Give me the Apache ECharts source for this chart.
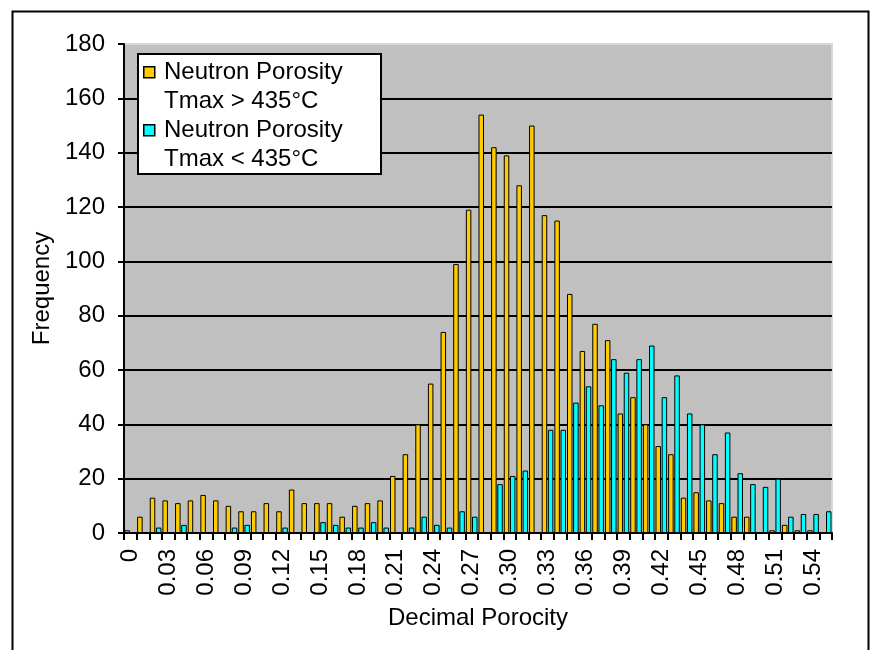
<!DOCTYPE html>
<html>
<head>
<meta charset="utf-8">
<script src="https://cdn.jsdelivr.net/npm/echarts@6/dist/echarts.min.js"></script>
<style>
html,body{margin:0;padding:0;background:#fff;}
#chart{width:876px;height:650px;}
</style>
</head>
<body>
<div id="chart"></div>
<script>
const categories = ['0','0.01','0.02','0.03','0.04','0.05','0.06','0.07','0.08','0.09',
  '0.10','0.11','0.12','0.13','0.14','0.15','0.16','0.17','0.18','0.19',
  '0.20','0.21','0.22','0.23','0.24','0.25','0.26','0.27','0.28','0.29',
  '0.30','0.31','0.32','0.33','0.34','0.35','0.36','0.37','0.38','0.39',
  '0.40','0.41','0.42','0.43','0.44','0.45','0.46','0.47','0.48','0.49',
  '0.50','0.51','0.52','0.53','0.54','0.55'];
const tmaxHigh = [1,6,13,12,11,12,14,12,10,8,
  8,11,8,16,11,11,11,6,10,11,
  12,21,29,40,55,74,99,119,154,142,
  139,128,150,117,115,88,67,77,71,44,
  50,40,32,29,13,15,12,11,6,6,
  0,1,3,1,1,0];
const tmaxLow = [0,0,2,0,3,0,0,0,2,3,
  0,0,2,0,0,4,3,2,2,4,
  2,0,2,6,3,2,8,6,0,18,
  21,23,0,38,38,48,54,47,64,59,
  64,69,50,58,44,40,29,37,22,18,
  17,20,6,7,7,8];
const seriesNames = ['Neutron Porosity Tmax > 435°C', 'Neutron Porosity Tmax < 435°C'];
const legendLines = [['Neutron Porosity','Tmax > 435°C'],['Neutron Porosity','Tmax < 435°C']];
const colors = ['#FFCC00', '#00FFFF'];
const yTicks = {min:0, max:180, interval:20};

const FONT = 'Liberation Sans, Arial, sans-serif';
const chart = echarts.init(document.getElementById('chart'));

const legendGraphics = [
  {type:'rect', left:137, top:53, shape:{width:243, height:120},
   style:{fill:'#fff', stroke:'#000', lineWidth:2}, z:100}
];
legendLines.forEach((lines, k) => {
  const y0 = 61 + k*58;
  legendGraphics.push({type:'rect', left:143, top:y0+5, shape:{width:11, height:11},
    style:{fill:colors[k], stroke:'#000', lineWidth:1.5}, z:101});
  legendGraphics.push({type:'text', left:164, top:y0-1,
    style:{text:lines[0], font:'24px ' + FONT, fill:'#000'}, z:101});
  legendGraphics.push({type:'text', left:164, top:y0+28,
    style:{text:lines[1], font:'24px ' + FONT, fill:'#000'}, z:101});
});

chart.setOption({
  animation:false,
  backgroundColor:'#fff',
  textStyle:{fontFamily:FONT},
  grid:{left:124, right:44, top:44, bottom:117, show:true,
        backgroundColor:'#C0C0C0', borderColor:'#D8D8D8', borderWidth:2},
  xAxis:{
    type:'category', data:categories,
    name:'Decimal Porocity', nameLocation:'middle', nameGap:73,
    nameTextStyle:{fontSize:24, color:'#000', fontFamily:FONT},
    axisLine:{lineStyle:{color:'#000', width:2}},
    axisTick:{show:true, interval:0, length:7, lineStyle:{color:'#000', width:2}},
    axisLabel:{interval:2, rotate:90, fontSize:24, color:'#000', margin:16, fontFamily:FONT}
  },
  yAxis:{
    type:'value', min:yTicks.min, max:yTicks.max, interval:yTicks.interval,
    name:'Frequency', nameLocation:'middle', nameGap:67, nameRotate:90,
    nameTextStyle:{fontSize:24, color:'#000', fontFamily:FONT},
    axisLine:{show:true, lineStyle:{color:'#000', width:2}},
    axisTick:{show:true, length:6, lineStyle:{color:'#000', width:2}},
    axisLabel:{fontSize:24, color:'#000', margin:19, fontFamily:FONT},
    splitLine:{show:true, showMaxLine:false, showMinLine:false, lineStyle:{color:'#000', width:2}}
  },
  series:[
    {name:seriesNames[0], type:'bar', data:tmaxHigh, barWidth:5.5, barGap:'12%',
     itemStyle:{color:colors[0], borderColor:'#000', borderWidth:1}},
    {name:seriesNames[1], type:'bar', data:tmaxLow, barWidth:5.5, barGap:'12%',
     itemStyle:{color:colors[1], borderColor:'#000', borderWidth:1}}
  ],
  graphic:[
    {type:'rect', left:10, top:9, shape:{width:856, height:700},
     style:{fill:'none', stroke:'#000', lineWidth:2}, silent:true, z:-1},
    ...legendGraphics
  ]
});
</script>
</body>
</html>
